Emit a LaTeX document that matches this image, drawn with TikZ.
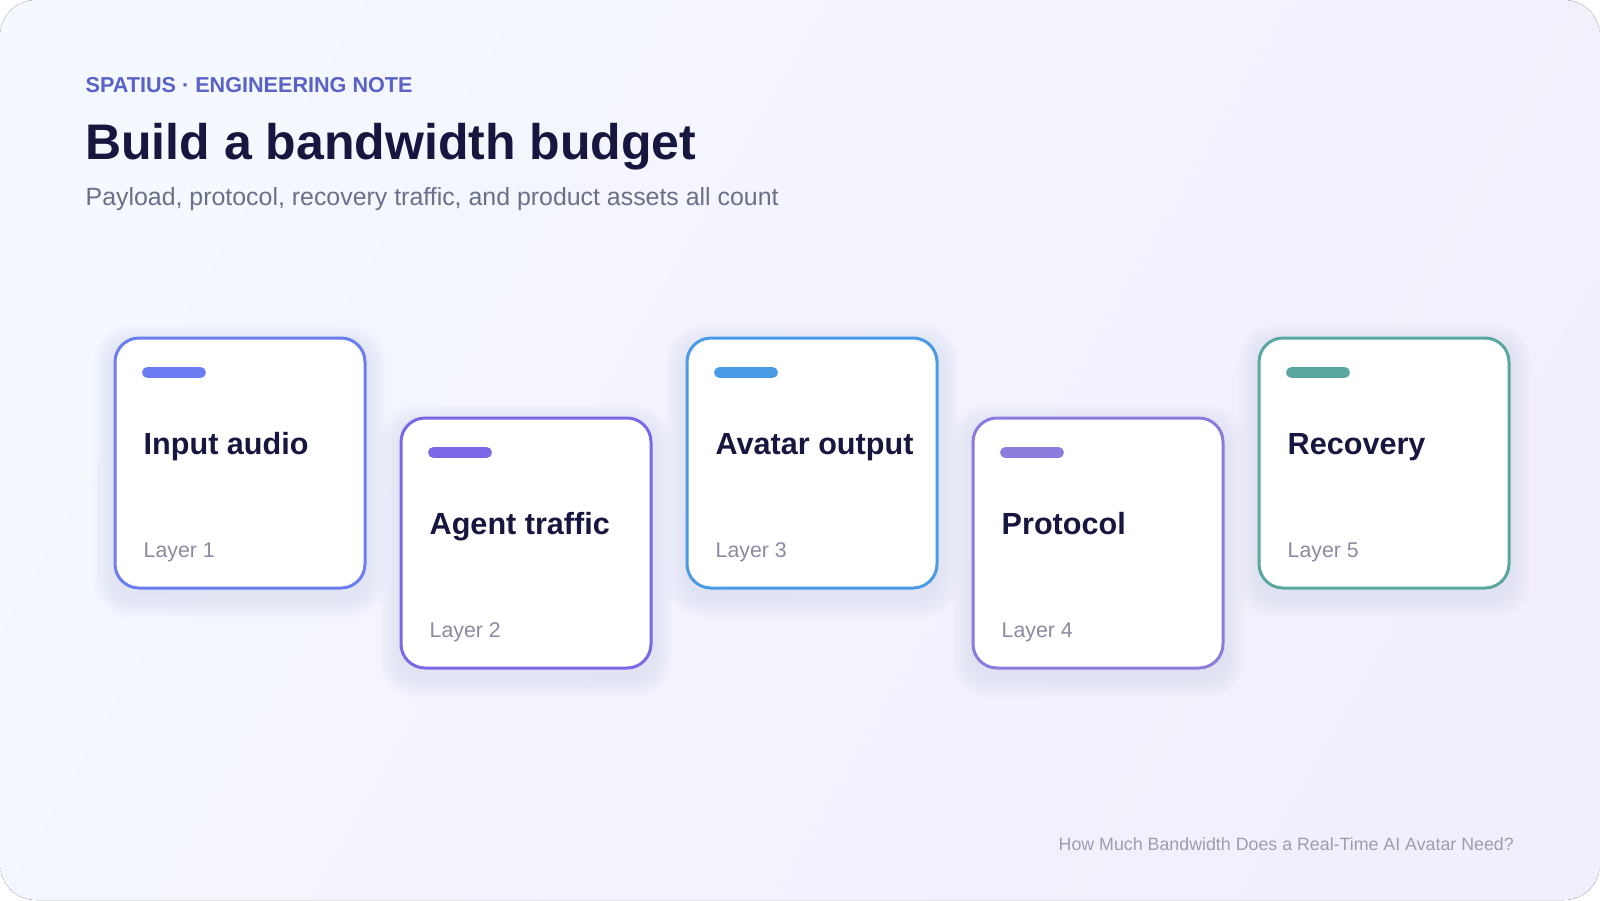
\documentclass[tikz,border=0pt]{standalone}
\usepackage{fontspec}
\setmainfont{Liberation Sans}
\definecolor{bgA}{HTML}{F4F8FF}
\definecolor{bgB}{HTML}{F3EEFC}
\definecolor{kick}{HTML}{5A62C6}
\definecolor{ink}{HTML}{16163F}
\definecolor{sub}{HTML}{6B7088}
\definecolor{layer}{HTML}{8A8BA0}
\definecolor{foot}{HTML}{9C9CB2}
\definecolor{shc}{HTML}{BCC2F2}
\definecolor{cA}{HTML}{6C7CF2}
\definecolor{cB}{HTML}{7B68E8}
\definecolor{cC}{HTML}{4A9BE5}
\definecolor{cD}{HTML}{8B7BDD}
\definecolor{cE}{HTML}{5AA7A0}
\newcommand{\mycard}[6]{%
  % #1 name, #2 x, #3 y (top), #4 colour, #5 title, #6 layer
  \foreach \i in {1,...,12}{
    \fill[shc, opacity=0.022, rounded corners=24pt+\i pt]
      (#2-\i*1.8, #3-\i*1.8+8) rectangle (#2+250+\i*1.8, #3+250+\i*1.8+8);
  }
  \node[card=#4] (#1) at (#2+125, #3+125) {};
  \draw[pill=#4] ([xshift=32.5pt, yshift=-34.5pt]#1.north west) -- ++(53pt,0pt);
  \node[cardtitle] (#1t) at (#2+28.5, #3+116) {#5};
  \node[cardlayer] (#1l) at (#2+28.5, #3+219) {#6};
}
\begin{document}
\begin{tikzpicture}[x=1pt,y=-1pt,
  card/.style={draw=#1, line width=3pt, fill=white, rounded corners=24pt,
    minimum width=250pt, minimum height=250pt, inner sep=0pt, outer sep=0pt},
  pill/.style={draw=#1, line width=11pt, line cap=round},
  cardtitle/.style={anchor=base west, inner sep=0pt, text=ink,
    font=\bfseries\fontsize{30.6}{34}\selectfont},
  cardlayer/.style={anchor=base west, inner sep=0pt, text=layer,
    font=\fontsize{21.3}{24}\selectfont},
  txt/.style={anchor=base west, inner sep=0pt}
]
\useasboundingbox (0,0) rectangle (1600,900);
\fill[white] (0,0) rectangle (1600,900);
\fill[left color=bgA, right color=bgB, shading angle=60, rounded corners=36pt] (0,0) rectangle (1600,900);

\node[txt, text=kick, font=\bfseries\fontsize{21.6}{24}\selectfont] (kicker) at (85.5,92) {SPATIUS · ENGINEERING NOTE};
\node[txt, text=ink, font=\bfseries\fontsize{50}{56}\selectfont] (title) at (85,159) {Build a bandwidth budget};
\node[txt, text=sub, font=\fontsize{24.9}{28}\selectfont] (subtitle) at (85.5,205) {Payload, protocol, recovery traffic, and product assets all count};

\mycard{c1}{115}{338}{cA}{Input audio}{Layer 1}
\mycard{c2}{401}{418}{cB}{Agent traffic}{Layer 2}
\mycard{c3}{687}{338}{cC}{Avatar output}{Layer 3}
\mycard{c4}{973}{418}{cD}{Protocol}{Layer 4}
\mycard{c5}{1259}{338}{cE}{Recovery}{Layer 5}

\node[anchor=base east, inner sep=0pt, text=foot, font=\fontsize{17.8}{20}\selectfont] (footer) at (1514,850) {How Much Bandwidth Does a Real-Time AI Avatar Need?};
\end{tikzpicture}
\end{document}
